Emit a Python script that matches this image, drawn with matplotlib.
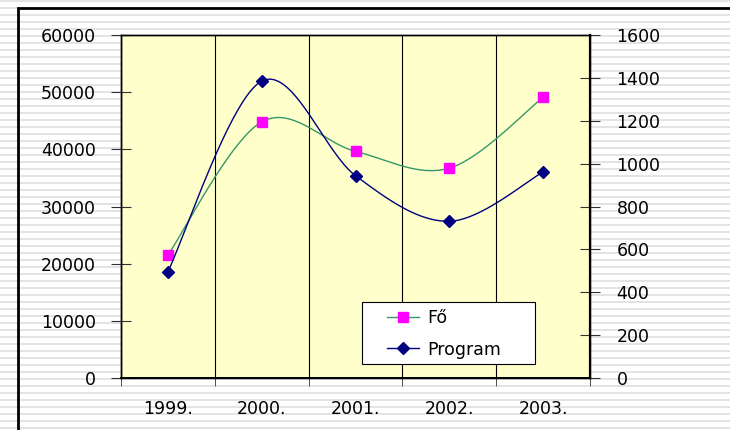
import numpy as np
import matplotlib
matplotlib.use("Agg")
from matplotlib import pyplot as plt
from matplotlib.patches import Rectangle
from matplotlib.lines import Line2D

plt.rcParams['font.family'] = ['DejaVu Sans']

years = ["1999.", "2000.", "2001.", "2002.", "2003."]
fo = [21500, 44800, 39650, 36700, 49100]          # left axis
program = [496, 1385, 944, 731, 961]              # right axis

W, H = 730, 430
FS = 12.5


def smooth(xs, ys, n=40):
    """Excel-like smoothed line: bezier segments with catmull-rom control points"""
    xs = np.asarray(xs, float)
    ys = np.asarray(ys, float)
    P = np.column_stack([xs, ys])
    out = []
    for i in range(len(P) - 1):
        p0 = P[max(i - 1, 0)]
        p1 = P[i]
        p2 = P[i + 1]
        p3 = P[min(i + 2, len(P) - 1)]
        c1 = p1 + (p2 - p0) / 6.0
        c2 = p2 - (p3 - p1) / 6.0
        t = np.linspace(0, 1, n)[:, None]
        seg = ((1 - t) ** 3) * p1 + 3 * ((1 - t) ** 2) * t * c1 + 3 * (1 - t) * t ** 2 * c2 + t ** 3 * p2
        out.append(seg if i == 0 else seg[1:])
    seg = np.vstack(out)
    return seg[:, 0], seg[:, 1]


fig = plt.figure(figsize=(W / 100, H / 100), dpi=100)
fig.patch.set_facecolor('white')

# striped slide background
for y in range(0, H, 7):
    fig.patches.append(Rectangle((0, 1 - (y + 2) / H), 1, 2 / H, transform=fig.transFigure,
                                 facecolor='#e3e3e3', edgecolor='none', zorder=-2))
# chart frame
fig.patches.append(Rectangle((18 / W, -0.1), 1.2, 1 - 8 / H + 0.1, transform=fig.transFigure,
                             facecolor='none', edgecolor='black', linewidth=2, zorder=-1))

ax = fig.add_axes([121 / W, 52 / H, (590 - 121) / W, (378 - 35) / H])
ax.set_facecolor('#ffffcc')
ax2 = ax.twinx()

x = np.arange(len(years))

sx, sy = smooth(x, fo)
ax.plot(sx, sy, color='#339966', lw=1.0, zorder=3)
ax.plot(x, fo, ls='none', marker='s', ms=7, mfc='#ff00ff', mec='#ff00ff', zorder=4)

px, py = smooth(x, program)
ax2.plot(px, py, color='#000080', lw=1.0, zorder=3)
ax2.plot(x, program, ls='none', marker='D', ms=6, mfc='#000080', mec='#000080', zorder=4)

ax.set_xlim(-0.5, len(years) - 0.5)
ax.set_ylim(0, 60000)
ax2.set_ylim(0, 1600)
ax.set_yticks(np.arange(0, 60001, 10000))
ax2.set_yticks(np.arange(0, 1601, 200))

ax.set_xticks(x)
ax.set_xticklabels(years, fontsize=FS)
ax.set_xticks(np.arange(-0.5, len(years), 1), minor=True)
ax.tick_params(axis='x', which='major', length=0, pad=16)
ax.tick_params(axis='x', which='minor', length=6, direction='out', color='#333333')
ax.grid(True, which='minor', axis='x', color='black', lw=0.8)

ax.tick_params(axis='y', direction='inout', length=14, labelsize=FS, pad=11, color='#333333')
ax2.tick_params(axis='y', direction='inout', length=14, labelsize=FS, pad=12, color='#333333')

for a in (ax, ax2):
    for s in a.spines.values():
        s.set_color('black')
        s.set_linewidth(1.0)
ax2.spines['right'].set_linewidth(1.6)
ax.spines['bottom'].set_linewidth(1.4)

# legend box
fig.patches.append(Rectangle((362 / W, 1 - 364 / H), (535 - 362) / W, 62 / H,
                             transform=fig.transFigure, facecolor='white',
                             edgecolor='black', linewidth=0.8, zorder=1))
handles = [
    Line2D([], [], color='#339966', lw=1.0, marker='s', ms=7, mfc='#ff00ff', mec='#ff00ff'),
    Line2D([], [], color='#000080', lw=1.0, marker='D', ms=6, mfc='#000080', mec='#000080'),
]
leg = fig.legend(handles, ['Fő', 'Program'], loc='center left',
                 bbox_to_anchor=(387 / W, 1 - 334 / H),
                 fontsize=FS, frameon=False, borderpad=0,
                 handlelength=1.85, handletextpad=0.45, labelspacing=0.75,
                 borderaxespad=0)
leg.set_zorder(5)

fig.savefig('out.png', dpi=100)
